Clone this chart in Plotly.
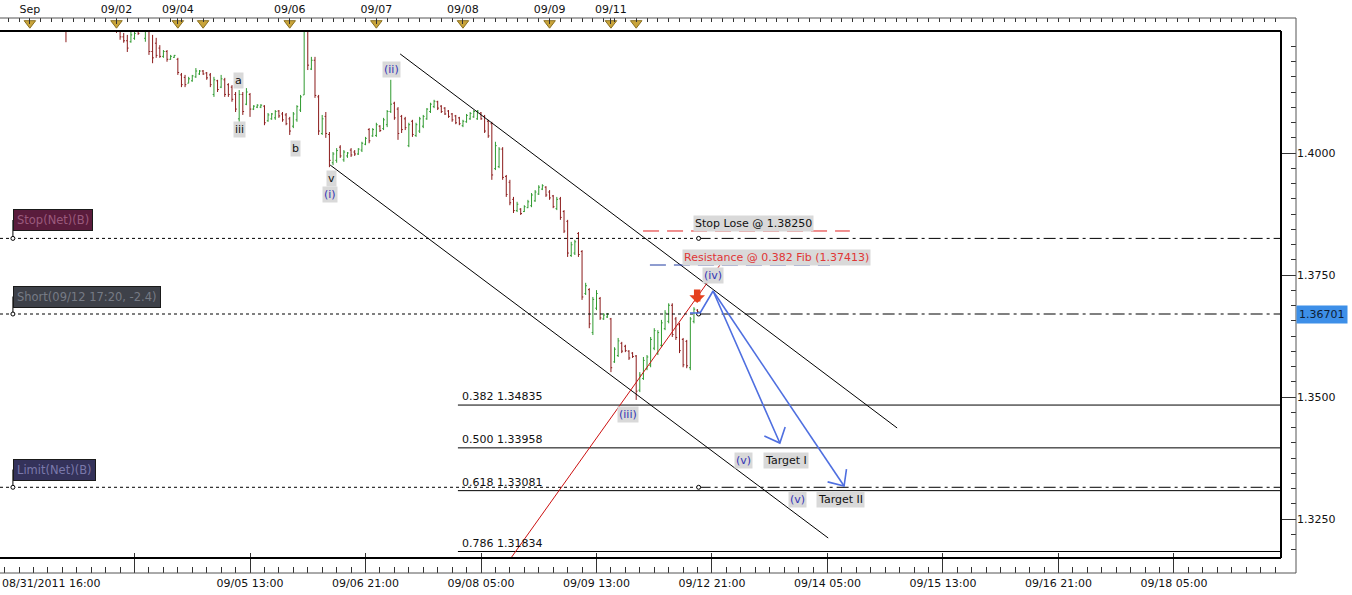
import math
import plotly.graph_objects as go

# ---------------- data ----------------
# hourly bars, x = trading hours since 08/31/2011 16:00 (weekend removed)
hours = list(range(0, 194))
opens = [
    1.4440, 1.4425, 1.4415, 1.4420, 1.4405, 1.4412, 1.4418, 1.4400, 1.4392, 1.4375,
    1.4380, 1.4360, 1.4350, 1.4355, 1.4325, 1.4330, 1.4308, 1.4300, 1.4295, 1.4262,
    1.4282, 1.4290, 1.4305, 1.4298, 1.4308, 1.4315, 1.4310, 1.4302, 1.4295, 1.4285,
    1.4290, 1.4275, 1.4270, 1.4250, 1.4238, 1.4230, 1.4228, 1.4235, 1.4255, 1.4250,
    1.4235, 1.4250, 1.4208, 1.4225, 1.4215, 1.4198, 1.4208, 1.4192, 1.4196, 1.4192,
    1.4160, 1.4155, 1.4143, 1.4148, 1.4156, 1.4162, 1.4168, 1.4164, 1.4160, 1.4120,
    1.4148, 1.4135, 1.4150, 1.4140, 1.4135, 1.4120, 1.4070, 1.4120, 1.4100, 1.4120,
    1.4090, 1.4094, 1.4094, 1.4096, 1.4066, 1.4070, 1.4072, 1.4086, 1.4080, 1.4078,
    1.4070, 1.4055, 1.4068, 1.4088, 1.4119, 1.4250, 1.4172, 1.4190, 1.4115, 1.4040,
    1.4075, 1.4038, 1.3980, 1.3985, 1.4012, 1.3986, 1.3994, 1.4006, 1.4002, 1.3998,
    1.4006, 1.4018, 1.4048, 1.4035, 1.4036, 1.4055, 1.4050, 1.4058, 1.4085, 1.4102,
    1.4090, 1.4075, 1.4070, 1.4015, 1.4065, 1.4036, 1.4045, 1.4055, 1.4070, 1.4085,
    1.4095, 1.4105, 1.4096, 1.4092, 1.4086, 1.4080, 1.4076, 1.4072, 1.4056, 1.4064,
    1.4070, 1.4074, 1.4070, 1.4082, 1.4075, 1.4065, 1.4060, 1.3968, 1.3972, 1.4008,
    1.3952, 1.3940, 1.3905, 1.3882, 1.3885, 1.3880, 1.3888, 1.3892, 1.3902, 1.3916,
    1.3926, 1.3930, 1.3920, 1.3912, 1.3886, 1.3906, 1.3880, 1.3860, 1.3790, 1.3795,
    1.3835, 1.3798, 1.3712, 1.3720, 1.3632, 1.3682, 1.3702, 1.3660, 1.3664, 1.3660,
    1.3572, 1.3585, 1.3610, 1.3604, 1.3594, 1.3590, 1.3584, 1.3514, 1.3538, 1.3558,
    1.3565, 1.3600, 1.3590, 1.3606, 1.3640, 1.3655, 1.3688, 1.3660, 1.3648, 1.3618,
    1.3614, 1.3560, 1.3655, 1.3678,
]
highs = [
    1.4452, 1.4438, 1.4430, 1.4428, 1.4420, 1.4425, 1.4422, 1.4410, 1.4400, 1.4390,
    1.4388, 1.4372, 1.4365, 1.4360, 1.4340, 1.4338, 1.4320, 1.4315, 1.4300, 1.4290,
    1.4300, 1.4310, 1.4318, 1.4312, 1.4322, 1.4330, 1.4325, 1.4315, 1.4308, 1.4300,
    1.4298, 1.4285, 1.4275, 1.4256, 1.4246, 1.4242, 1.4248, 1.4248, 1.4260, 1.4270,
    1.4258, 1.4255, 1.4242, 1.4236, 1.4221, 1.4211, 1.4211, 1.4201, 1.4201, 1.4195,
    1.4164, 1.4160, 1.4156, 1.4160, 1.4174, 1.4170, 1.4170, 1.4166, 1.4164, 1.4156,
    1.4150, 1.4160, 1.4154, 1.4143, 1.4139, 1.4125, 1.4129, 1.4125, 1.4133, 1.4123,
    1.4098, 1.4100, 1.4100, 1.4098, 1.4082, 1.4082, 1.4088, 1.4088, 1.4084, 1.4082,
    1.4074, 1.4084, 1.4098, 1.4119, 1.4280, 1.4270, 1.4197, 1.4197, 1.4119, 1.4078,
    1.4084, 1.4043, 1.4002, 1.4010, 1.4016, 1.4006, 1.4002, 1.4010, 1.4006, 1.4010,
    1.4023, 1.4033, 1.4051, 1.4051, 1.4062, 1.4057, 1.4072, 1.4088, 1.4150, 1.4105,
    1.4094, 1.4078, 1.4074, 1.4062, 1.4068, 1.4062, 1.4074, 1.4078, 1.4092, 1.4103,
    1.4109, 1.4107, 1.4098, 1.4094, 1.4088, 1.4082, 1.4078, 1.4074, 1.4068, 1.4080,
    1.4084, 1.4088, 1.4088, 1.4084, 1.4078, 1.4068, 1.4064, 1.4023, 1.4012, 1.4012,
    1.3955, 1.3945, 1.3910, 1.3900, 1.3887, 1.3893, 1.3904, 1.3918, 1.3924, 1.3934,
    1.3936, 1.3932, 1.3924, 1.3914, 1.3910, 1.3910, 1.3883, 1.3863, 1.3818, 1.3822,
    1.3838, 1.3801, 1.3734, 1.3723, 1.3705, 1.3719, 1.3705, 1.3672, 1.3672, 1.3662,
    1.3602, 1.3621, 1.3613, 1.3607, 1.3596, 1.3592, 1.3586, 1.3551, 1.3582, 1.3586,
    1.3623, 1.3641, 1.3637, 1.3658, 1.3678, 1.3692, 1.3692, 1.3664, 1.3652, 1.3621,
    1.3617, 1.3664, 1.3684, 1.3680,
]
lows = [
    1.4418, 1.4410, 1.4405, 1.4400, 1.4398, 1.4405, 1.4395, 1.4385, 1.4370, 1.4365,
    1.4355, 1.4340, 1.4338, 1.4320, 1.4310, 1.4300, 1.4290, 1.4285, 1.4227, 1.4258,
    1.4270, 1.4280, 1.4290, 1.4288, 1.4300, 1.4305, 1.4298, 1.4290, 1.4280, 1.4272,
    1.4268, 1.4262, 1.4246, 1.4232, 1.4226, 1.4207, 1.4226, 1.4232, 1.4242, 1.4250,
    1.4228, 1.4201, 1.4184, 1.4195, 1.4195, 1.4195, 1.4187, 1.4191, 1.4195, 1.4160,
    1.4135, 1.4135, 1.4143, 1.4146, 1.4154, 1.4160, 1.4160, 1.4150, 1.4135, 1.4115,
    1.4125, 1.4133, 1.4115, 1.4115, 1.4105, 1.4084, 1.4064, 1.4078, 1.4098, 1.4074,
    1.4088, 1.4092, 1.4092, 1.4057, 1.4064, 1.4068, 1.4068, 1.4072, 1.4064, 1.4057,
    1.4037, 1.4051, 1.4064, 1.4084, 1.4119, 1.4170, 1.4170, 1.4113, 1.4037, 1.4037,
    1.4031, 1.3971, 1.3975, 1.3980, 1.3990, 1.3982, 1.3990, 1.3992, 1.3994, 1.3996,
    1.4002, 1.4016, 1.4020, 1.4033, 1.4033, 1.4043, 1.4047, 1.4053, 1.4082, 1.4068,
    1.4027, 1.4041, 1.4047, 1.4012, 1.4033, 1.4033, 1.4041, 1.4051, 1.4068, 1.4082,
    1.4092, 1.4088, 1.4082, 1.4078, 1.4072, 1.4064, 1.4059, 1.4057, 1.4053, 1.4062,
    1.4068, 1.4072, 1.4068, 1.4068, 1.4041, 1.4031, 1.3945, 1.3965, 1.3969, 1.3945,
    1.3910, 1.3893, 1.3877, 1.3879, 1.3873, 1.3879, 1.3887, 1.3889, 1.3900, 1.3914,
    1.3924, 1.3910, 1.3904, 1.3887, 1.3883, 1.3863, 1.3836, 1.3787, 1.3787, 1.3791,
    1.3787, 1.3699, 1.3709, 1.3641, 1.3627, 1.3678, 1.3658, 1.3658, 1.3662, 1.3551,
    1.3570, 1.3582, 1.3590, 1.3592, 1.3576, 1.3580, 1.3494, 1.3510, 1.3535, 1.3555,
    1.3561, 1.3596, 1.3586, 1.3602, 1.3637, 1.3651, 1.3623, 1.3617, 1.3590, 1.3561,
    1.3559, 1.3555, 1.3651, 1.3668,
]
closes = [
    1.4425, 1.4415, 1.4420, 1.4405, 1.4412, 1.4418, 1.4400, 1.4392, 1.4375, 1.4380,
    1.4360, 1.4350, 1.4355, 1.4325, 1.4330, 1.4308, 1.4300, 1.4295, 1.4262, 1.4282,
    1.4290, 1.4305, 1.4298, 1.4308, 1.4315, 1.4310, 1.4302, 1.4295, 1.4285, 1.4290,
    1.4275, 1.4270, 1.4250, 1.4238, 1.4230, 1.4215, 1.4242, 1.4245, 1.4245, 1.4265,
    1.4252, 1.4208, 1.4195, 1.4200, 1.4198, 1.4208, 1.4192, 1.4198, 1.4200, 1.4165,
    1.4140, 1.4140, 1.4152, 1.4158, 1.4168, 1.4168, 1.4162, 1.4154, 1.4140, 1.4150,
    1.4130, 1.4152, 1.4120, 1.4120, 1.4110, 1.4090, 1.4120, 1.4085, 1.4125, 1.4090,
    1.4096, 1.4098, 1.4098, 1.4062, 1.4078, 1.4080, 1.4085, 1.4076, 1.4068, 1.4060,
    1.4045, 1.4080, 1.4095, 1.4115, 1.4250, 1.4180, 1.4190, 1.4118, 1.4045, 1.4070,
    1.4040, 1.3985, 1.3998, 1.4005, 1.3994, 1.4002, 1.4000, 1.3996, 1.3998, 1.4008,
    1.4020, 1.4030, 1.4025, 1.4048, 1.4058, 1.4046, 1.4068, 1.4085, 1.4100, 1.4072,
    1.4040, 1.4048, 1.4052, 1.4058, 1.4038, 1.4058, 1.4070, 1.4075, 1.4090, 1.4100,
    1.4106, 1.4092, 1.4085, 1.4080, 1.4075, 1.4068, 1.4062, 1.4060, 1.4065, 1.4077,
    1.4081, 1.4085, 1.4086, 1.4070, 1.4045, 1.4035, 1.3955, 1.4015, 1.4008, 1.3950,
    1.3915, 1.3898, 1.3882, 1.3895, 1.3876, 1.3890, 1.3900, 1.3914, 1.3920, 1.3930,
    1.3933, 1.3914, 1.3908, 1.3890, 1.3905, 1.3868, 1.3840, 1.3795, 1.3812, 1.3818,
    1.3792, 1.3705, 1.3728, 1.3650, 1.3700, 1.3712, 1.3662, 1.3668, 1.3670, 1.3560,
    1.3598, 1.3615, 1.3594, 1.3595, 1.3580, 1.3583, 1.3512, 1.3545, 1.3575, 1.3582,
    1.3618, 1.3636, 1.3632, 1.3652, 1.3672, 1.3688, 1.3628, 1.3622, 1.3595, 1.3566,
    1.3564, 1.3660, 1.3680, 1.36701,
]

# axis labels
bottom_tick_hours = [37, 69, 101, 133, 165, 197, 229, 261, 293, 325]
bottom_tick_text = ["", "09/05 13:00", "09/06 21:00", "09/08 05:00", "09/09 13:00",
                    "09/12 21:00", "09/14 05:00", "09/15 13:00", "09/16 21:00", "09/18 05:00"]
start_label = "08/31/2011 16:00"
top_tick_hours = [8, 32, 49, 80, 104, 128, 152, 169]
top_tick_text = ["Sep", "09/02", "09/04", "09/06", "09/07", "09/08", "09/09", "09/11"]
event_hours = [8, 32, 49, 56, 80, 104, 128, 152, 169, 176]
price_ticks = [1.3250, 1.3500, 1.3750, 1.4000]
last_price = 1.36701

# Fibonacci levels
fib_ratios = ["0.382", "0.500", "0.618", "0.786"]
fib_prices = [1.34835, 1.33958, 1.33081, 1.31834]
fib_start_hour = 126.6

# orders
order_names = ["Stop(Net)(B)", "Short(09/12 17:20, -2.4)", "Limit(Net)(B)"]
order_prices = [1.38250, 1.36701, 1.33150]
order_box_prices = [1.38627, 1.37059, 1.33514]
entry_hour = 193.3

# drawn lines
upper_channel_h = [110.6, 248.3]
upper_channel_p = [1.42030, 1.34365]
lower_channel_h = [91.2, 229.2]
lower_channel_p = [1.39754, 1.32111]
trend_h = [141.3, 199.2]
trend_p = [1.31701, 1.37705]
stoplose_line_h = [177.9, 235.2]
stoplose_line_p = 1.38402
resist_line_h = [179.8, 229.7]
resist_line_p = 1.37705
wave_h = [190.9, 193.7, 197.3]
wave_p = [1.36721, 1.36721, 1.37172]
target1 = (215.8, 1.34057)
target2 = (233.6, 1.33176)
sell_hour, sell_price = 192.9, 1.36926

labels = [
    ("a", 65.9, 1.4148, "#111111"), ("iii", 66.2, 1.4049, "#111111"),
    ("b", 81.7, 1.4010, "#111111"), ("v", 91.7, 1.3947, "#111111"),
    ("(i)", 91.2, 1.3914, "#3535b5"), ("(ii)", 108.3, 1.4172, "#3535b5"),
    ("(iii)", 173.7, 1.3465, "#3535b5"), ("(iv)", 197.3, 1.3750, "#3535b5"),
    ("(v)", 205.6, 1.3369, "#3535b5"), ("Target I", 217.5, 1.3369, "#111111"),
    ("(v)", 220.6, 1.3291, "#3535b5"), ("Target II", 232.5, 1.3291, "#111111"),
    ("Stop Lose @ 1.38250", 208.4, 1.3855, "#111111"),
    ("Resistance @ 0.382 Fib (1.37413)", 215.0, 1.3785, "#e03535"),
]

# ---------------- geometry ----------------
FONT = "DejaVu Sans"
W, H = 1352, 595
PLOT_R, PLOT_T, PLOT_B = 1296, 18, 573
FRAME_R, FRAME_T, FRAME_B = 1281, 31, 558
X_RANGE = [-0.277, 354.66]
Y_RANGE = [1.31701, 1.42500]
plot_h = PLOT_B - PLOT_T
xdom = [0, FRAME_R / PLOT_R]
ydom = [(PLOT_B - FRAME_B) / plot_h, (PLOT_B - FRAME_T) / plot_h]
y3dom = [ydom[1], 1.0]
px_h = FRAME_R / (X_RANGE[1] - X_RANGE[0])
px_p = (FRAME_B - FRAME_T) / (Y_RANGE[1] - Y_RANGE[0])


def arrow_wings(h0, p0, h1, p1, length=17, ang=42):
    dx, dy = (h1 - h0) * px_h, (p1 - p0) * px_p
    L = math.hypot(dx, dy)
    ux, uy = -dx / L, -dy / L
    out = []
    for s in (1, -1):
        a = math.radians(ang * s)
        wx = ux * math.cos(a) - uy * math.sin(a)
        wy = ux * math.sin(a) + uy * math.cos(a)
        out.append((h1 + wx * length / px_h, p1 + wy * length / px_p))
    return out


fig = go.Figure()

fig.add_trace(go.Ohlc(
    x=hours, open=opens, high=highs, low=lows, close=closes,
    increasing=dict(line=dict(color="#2f9a2f", width=1)),
    decreasing=dict(line=dict(color="#8b1a1a", width=1)),
    tickwidth=0.35, hoverinfo="skip", showlegend=False,
))


def line(xs, ys, color="#000000", width=1, dash="solid"):
    fig.add_trace(go.Scatter(x=xs, y=ys, mode="lines", hoverinfo="skip",
                             line=dict(color=color, width=width, dash=dash),
                             showlegend=False))


# fib levels
for fp in fib_prices:
    line([fib_start_hour, X_RANGE[1]], [fp, fp], "#000000", 1)

# channel + trend
line(upper_channel_h, upper_channel_p, "#000000", 1)
line(lower_channel_h, lower_channel_p, "#000000", 1)
line(trend_h, trend_p, "#cc1010", 1)

# order lines
for op in order_prices:
    line([X_RANGE[0], entry_hour], [op, op], "#000000", 1, "3px,3px")
    line([entry_hour, X_RANGE[1]], [op, op], "#000000", 1, "12px,4px,3px,4px")
# drawn stop / resistance dashes
line(stoplose_line_h, [stoplose_line_p] * 2, "#e02020", 1, "16px,8px")
line(resist_line_h, [resist_line_p] * 2, "#1f3aa0", 1, "16px,8px")

# order connectors & split markers
for op, bp in zip(order_prices, order_box_prices):
    line([3.3, 3.3], [op, bp], "#000000", 1)
fig.add_trace(go.Scatter(x=[3.3] * 3 + [entry_hour] * 3, y=order_prices + order_prices,
                         mode="markers", hoverinfo="skip", showlegend=False,
                         marker=dict(symbol="circle", size=4, color="white",
                                     line=dict(color="#000", width=1))))

# blue projection arrows
BLUE = "#4f6fe0"
line(wave_h + [target1[0]], wave_p + [target1[1]], BLUE, 1.6)
line([wave_h[-1], target2[0]], [wave_p[-1], target2[1]], BLUE, 1.6)
for tgt in (target1, target2):
    w1, w2 = arrow_wings(wave_h[-1], wave_p[-1], tgt[0], tgt[1])
    line([w1[0], tgt[0], w2[0]], [w1[1], tgt[1], w2[1]], BLUE, 1.6)

# top-strip event triangles
fig.add_trace(go.Scatter(x=event_hours, y=[0.6] * len(event_hours), xaxis="x2", yaxis="y3",
                         mode="markers", hoverinfo="skip", showlegend=False,
                         marker=dict(symbol="triangle-down", size=10, color="#c9a43a",
                                     line=dict(color="#8a7020", width=1))))

ann = []
for txt, hx, py, col in labels:
    ann.append(dict(x=hx, y=py, xref="x", yref="y", text=txt, showarrow=False,
                    font=dict(family=FONT, size=11, color=col),
                    bgcolor="#d9d9d9", borderpad=1))
for r, fp in zip(fib_ratios, fib_prices):
    ann.append(dict(x=fib_start_hour + 0.5, y=fp, xref="x", yref="y", xanchor="left",
                    yanchor="bottom", text=f"{r} {fp:.5f}", showarrow=False,
                    font=dict(family=FONT, size=11, color="#111")))
order_styles = [("#5a1c3c", "#9a5a7c"), ("#3e4149", "#767b85"), ("#34325a", "#7a78aa")]
for name, bp, (bg, fc) in zip(order_names, order_box_prices, order_styles):
    ann.append(dict(x=3.3, y=bp, xref="x", yref="y", xanchor="left", text=name,
                    showarrow=False, bgcolor=bg, bordercolor="#1a1a1a", borderwidth=1,
                    borderpad=3, font=dict(family=FONT, size=11.5, color=fc)))
ann.append(dict(x=1.0, y=last_price, xref="paper", yref="y", xanchor="left",
                text=f"{last_price:.5f}", showarrow=False, bgcolor="#3d8fe8",
                borderpad=2, font=dict(family=FONT, size=11, color="#0d1d35")))
ann.append(dict(x=0, y=0, xref="paper", yref="paper", xanchor="left", yanchor="middle",
                yshift=-10, text=start_label, showarrow=False,
                font=dict(family=FONT, size=11, color="#111")))
# sell arrow (block arrow pointing down)
ann.append(dict(x=sell_hour, y=sell_price, xref="x", yref="y", ax=0, ay=-15,
                text="", showarrow=True, arrowhead=1, arrowsize=0.4, arrowwidth=6.5,
                arrowcolor="#e5401f"))

shapes = [
    dict(type="line", xref="x domain", yref="y domain", x0=0, x1=1, y0=1, y1=1,
         line=dict(color="#000", width=2)),
    dict(type="line", xref="x domain", yref="y domain", x0=1, x1=1, y0=0, y1=1,
         line=dict(color="#000", width=2)),
    dict(type="line", xref="x domain", yref="y domain", x0=0, x1=1, y0=0, y1=0,
         line=dict(color="#000", width=2)),
    dict(type="line", xref="paper", yref="paper", x0=1, x1=1, y0=0, y1=1,
         line=dict(color="#555", width=1)),
    dict(type="line", xref="paper", yref="paper", x0=0, x1=1, y0=1, y1=1,
         line=dict(color="#555", width=1)),
    dict(type="line", xref="paper", yref="paper", x0=0, x1=1, y0=0, y1=0,
         line=dict(color="#555", width=1)),
]

fig.update_layout(
    width=W, height=H, margin=dict(l=0, r=W - PLOT_R, t=PLOT_T, b=H - PLOT_B),
    paper_bgcolor="white", plot_bgcolor="white", showlegend=False,
    font=dict(family=FONT, size=11, color="#111"),
    xaxis=dict(domain=xdom, range=X_RANGE, anchor="free", position=0,
               tickmode="array", tickvals=bottom_tick_hours, ticktext=bottom_tick_text,
               ticks="inside", ticklen=20, tickcolor="#333", ticklabelstandoff=2,
               minor=dict(ticks="inside", ticklen=6, dtick=4, tick0=1, tickcolor="#333"),
               showline=False, showgrid=False, zeroline=False,
               rangeslider=dict(visible=False)),
    xaxis2=dict(domain=xdom, range=X_RANGE, matches="x", anchor="y3", side="top",
                tickmode="array", tickvals=top_tick_hours, ticktext=top_tick_text,
                ticks="inside", ticklen=6, tickcolor="#333", ticklabelstandoff=2,
                minor=dict(ticks="inside", ticklen=4, dtick=3, tick0=2, tickcolor="#333"),
                showline=False, showgrid=False, zeroline=False),
    yaxis=dict(domain=ydom, range=Y_RANGE, side="right", anchor="free", position=1,
               tickmode="array", tickvals=price_ticks, tickformat=".4f",
               ticks="inside", ticklen=15, tickcolor="#333",
               minor=dict(ticks="inside", ticklen=5, dtick=0.003125, tick0=1.325,
                          tickcolor="#333"),
               showline=False, showgrid=False, zeroline=False),
    yaxis3=dict(domain=y3dom, range=[0, 1], visible=False, anchor="x2"),
    annotations=ann, shapes=shapes,
)

fig.write_html("out.html", config={"displayModeBar": False},
               post_script="document.body.style.margin='0';"
                           "document.body.style.padding='0';"
                           "document.body.style.overflow='hidden';")
